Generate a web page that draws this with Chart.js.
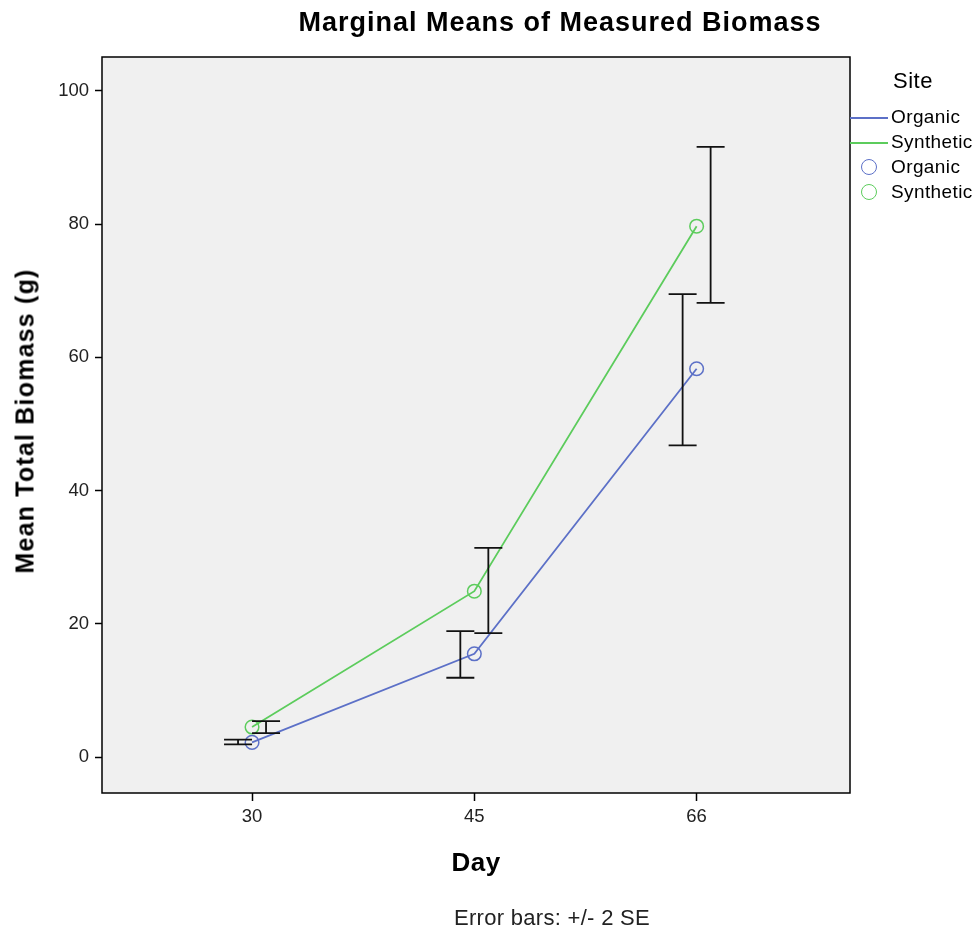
<!DOCTYPE html>
<html>
<head>
<meta charset="utf-8">
<script src="https://cdn.jsdelivr.net/npm/chart.js@4"></script>
<style>
  body { margin: 0; background: #fff; font-family: "Liberation Sans", Arial, sans-serif; }
  #wrap { position: relative; width: 977px; height: 934px; }
  .txt { position: absolute; white-space: nowrap; transform: translate(-50%, -50%); color: #000; }
  #title { left: 560px; top: 22px; font-weight: bold; font-size: 27px; letter-spacing: 1px; }
  #ytitle { left: 25px; top: 421px; font-weight: bold; font-size: 25px; letter-spacing: 1.2px; transform: translate(-50%, -50%) rotate(-90deg); }
  #xtitle { left: 476px; top: 862px; font-weight: bold; font-size: 26px; letter-spacing: 0.5px; }
  #note { left: 552px; top: 918px; font-size: 22px; letter-spacing: 0.3px; color: #222; }
  #legend { position: absolute; left: 850px; top: 68px; font-size: 19px; color: #000; }
  #legend .head { font-size: 22px; letter-spacing: 0.5px; margin-left: 43px; height: 38px; }
  #legend .row { position: relative; height: 25px; line-height: 22px; }
  #legend .row span.lbl { position: absolute; left: 41px; top: 0; letter-spacing: 0.4px; }
  #legend .ln { position: absolute; left: 0; top: 11px; width: 38px; height: 2px; }
  #legend .pt { position: absolute; left: 11px; top: 3px; width: 14px; height: 14px; border-radius: 50%; border: 1.5px solid; }
</style>
</head>
<body>
<div id="wrap">
  <canvas id="chart" width="977" height="934"></canvas>
  <div class="txt" id="title">Marginal Means of Measured Biomass</div>
  <div class="txt" id="ytitle">Mean Total Biomass (g)</div>
  <div class="txt" id="xtitle">Day</div>
  <div class="txt" id="note">Error bars: +/- 2 SE</div>
  <div id="legend"></div>
</div>
<script>
var days = ["30", "45", "66"];
var organicMean = [2.2, 15.5, 58.3];
var organicLow = [1.9, 11.9, 46.8];
var organicHigh = [2.6, 18.9, 69.5];
var syntheticMean = [4.5, 24.9, 79.7];
var syntheticLow = [3.6, 18.6, 68.2];
var syntheticHigh = [5.4, 31.4, 91.6];
var yTicks = [0, 20, 40, 60, 80, 100];

var blue = "#5c70c7";
var green = "#5ccc5c";

// legend (html)
var legendItems = [
  { kind: "line", color: blue, text: "Organic" },
  { kind: "line", color: green, text: "Synthetic" },
  { kind: "point", color: blue, text: "Organic" },
  { kind: "point", color: green, text: "Synthetic" }
];
var lg = document.getElementById("legend");
var html = '<div class="head">Site</div>';
legendItems.forEach(function (it) {
  html += '<div class="row">' +
    (it.kind == "line" ? '<div class="ln" style="background:' + it.color + '"></div>'
                       : '<div class="pt" style="border-color:' + it.color + '"></div>') +
    '<span class="lbl">' + it.text + '</span></div>';
});
lg.innerHTML = html;

function toXY(vals) {
  return vals.map(function (v, i) { return { x: i, y: v }; });
}

var plotFrame = {
  id: "plotFrame",
  beforeDatasetsDraw: function (chart) {
    var a = chart.chartArea, ctx = chart.ctx;
    ctx.save();
    ctx.fillStyle = "#f0f0f0";
    ctx.fillRect(a.left, a.top, a.right - a.left, a.bottom - a.top);
    ctx.strokeStyle = "#000";
    ctx.lineWidth = 1.5;
    ctx.strokeRect(a.left, a.top, a.right - a.left, a.bottom - a.top);
    ctx.restore();
  }
};

var errorBars = {
  id: "errorBars",
  afterDatasetsDraw: function (chart) {
    var ctx = chart.ctx, xs = chart.scales.x, ys = chart.scales.y;
    var sets = [
      { lo: organicLow, hi: organicHigh, off: -14 },
      { lo: syntheticLow, hi: syntheticHigh, off: 14 }
    ];
    ctx.save();
    ctx.strokeStyle = "#111";
    ctx.lineWidth = 1.8;
    sets.forEach(function (s) {
      s.lo.forEach(function (lo, i) {
        var x = xs.getPixelForValue(i) + s.off;
        var y1 = ys.getPixelForValue(lo), y2 = ys.getPixelForValue(s.hi[i]);
        ctx.beginPath();
        ctx.moveTo(x, y1); ctx.lineTo(x, y2);
        ctx.moveTo(x - 14, y1); ctx.lineTo(x + 14, y1);
        ctx.moveTo(x - 14, y2); ctx.lineTo(x + 14, y2);
        ctx.stroke();
      });
    });
    ctx.restore();
  }
};

new Chart(document.getElementById("chart"), {
  type: "line",
  data: {
    datasets: [{
      label: "Organic",
      data: toXY(organicMean),
      borderColor: blue,
      borderWidth: 1.8,
      pointRadius: 6.8,
      pointBorderWidth: 1.5,
      pointBackgroundColor: "rgba(0,0,0,0)",
      pointBorderColor: blue
    }, {
      label: "Synthetic",
      data: toXY(syntheticMean),
      borderColor: green,
      borderWidth: 1.8,
      pointRadius: 6.8,
      pointBorderWidth: 1.5,
      pointBackgroundColor: "rgba(0,0,0,0)",
      pointBorderColor: green
    }]
  },
  options: {
    responsive: false,
    animation: false,
    layout: { padding: { left: 0, right: 127, top: 57, bottom: 61 } },
    plugins: { legend: { display: false }, title: { display: false }, tooltip: { enabled: false } },
    scales: {
      x: {
        type: "linear",
        min: -0.675,
        max: 2.69,
        afterBuildTicks: function (s) { s.ticks = days.map(function (d, i) { return { value: i }; }); },
        afterFit: function (s) { s.height = 80; },
        ticks: {
          callback: function (v) { return days[v]; },
          color: "#222",
          font: { size: 18.5, family: "Liberation Sans" },
          padding: 5
        },
        grid: { drawOnChartArea: false, drawTicks: true, tickLength: 8, tickColor: "#000", tickWidth: 1.5 },
        border: { display: false }
      },
      y: {
        type: "linear",
        min: -5.4,
        max: 105.1,
        afterBuildTicks: function (s) { s.ticks = yTicks.map(function (v) { return { value: v }; }); },
        afterFit: function (s) { s.width = 102; },
        ticks: {
          color: "#222",
          font: { size: 18.5, family: "Liberation Sans" },
          padding: 6
        },
        grid: { drawOnChartArea: false, drawTicks: true, tickLength: 7, tickColor: "#000", tickWidth: 1.5 },
        border: { display: false }
      }
    }
  },
  plugins: [plotFrame, errorBars]
});
</script>
</body>
</html>
